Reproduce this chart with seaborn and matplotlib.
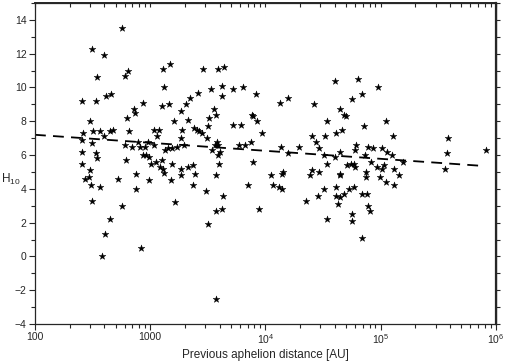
import matplotlib
matplotlib.use("Agg")
import matplotlib.pyplot as plt
import matplotlib.ticker as mticker
import numpy as np
import pandas as pd
import seaborn as sns

# log10 of previous aphelion distance [AU]
log_aphelion = [
    2.755, 2.495, 2.60, 2.535, 2.81, 2.78, 2.405, 2.527, 2.613, 2.66,
    2.934, 2.86, 2.87, 2.80, 2.474, 2.414, 2.50, 2.56, 2.648, 2.68,
    2.813, 2.41, 2.495, 2.596, 2.78, 2.84, 2.896, 2.91, 2.954, 2.983,
    2.405, 2.527, 2.54, 2.94, 2.96, 2.99, 2.787, 2.41, 3.006, 2.48,
    2.434, 2.468, 2.49, 2.56, 2.72, 2.88, 2.986, 2.874, 2.495, 2.755,
    2.65, 2.605, 2.58, 2.916,
    # 1000 - 3000
    3.108, 3.17, 3.117, 3.105, 3.165, 3.21, 3.03, 3.077, 3.06, 3.03,
    3.15, 3.186, 3.127, 3.05, 3.105, 3.19, 3.23, 3.085, 3.11, 3.12,
    3.18, 3.215, 3.455, 3.417, 3.345, 3.31, 3.264, 3.325, 3.278, 3.38,
    3.408, 3.426, 3.452, 3.264, 3.49, 3.29, 3.27, 3.33, 3.374, 3.267,
    3.39, 3.37, 3.486, 3.50,
    # 3000 - 10^4
    3.59, 3.637, 3.623, 3.527, 3.72, 3.805, 3.92, 3.62, 3.55, 3.57,
    3.507, 3.885, 3.89, 3.93, 3.50, 3.718, 3.79, 3.97, 3.576, 3.565,
    3.59, 3.533, 3.605, 3.585, 3.767, 3.82, 3.877, 3.594, 3.89, 3.57,
    3.63, 3.85, 3.57, 3.62, 3.94, 3.57,
    # 10^4 - 10^5
    4.60, 4.80, 4.98, 4.126, 4.198, 4.418, 4.75, 4.836, 4.65, 4.68,
    4.70, 4.536, 4.856, 4.667, 4.61, 4.40, 4.518, 4.443, 4.135, 4.29,
    4.464, 4.79, 4.775, 4.89, 4.93, 4.198, 4.505, 4.65, 4.86, 4.60,
    4.536, 4.71, 4.745, 4.77, 4.78, 4.92, 4.965, 4.40, 4.39, 4.466,
    4.155, 4.146, 4.045, 4.65, 4.65, 4.87, 4.87, 4.99, 4.062, 4.117,
    4.146, 4.35, 4.46, 4.505, 4.53, 4.614, 4.614, 4.65, 4.63, 4.68,
    4.725, 4.77, 4.75, 4.75, 4.837, 4.84, 4.88, 4.89, 4.91,
    # 10^5 - 10^6
    5.01, 5.045, 5.11, 5.057, 5.098, 5.196, 5.03, 5.01, 5.115, 5.16,
    5.05, 5.115, 5.583, 5.572, 5.557, 5.915,
]

h10 = [
    13.5, 12.3, 11.9, 10.6, 11.0, 10.7, 9.2, 9.2, 9.5, 9.6,
    9.1, 8.7, 8.5, 8.2, 8.0, 7.3, 7.4, 7.4, 7.45, 7.5,
    7.4, 6.9, 6.7, 7.1, 6.6, 6.5, 6.8, 6.5, 6.5, 6.8,
    6.2, 6.1, 5.8, 6.0, 6.0, 5.9, 5.7, 5.5, 5.5, 5.1,
    4.6, 4.7, 4.2, 4.1, 4.6, 4.9, 4.5, 4.0, 3.3, 3.0,
    2.2, 1.35, 0.0, 0.5,
    11.1, 11.4, 10.0, 8.9, 9.0, 8.0, 7.5, 7.5, 7.1, 6.6,
    6.4, 6.4, 6.3, 5.6, 5.7, 5.5, 6.5, 5.3, 5.2, 4.95,
    4.5, 3.2, 11.1, 9.7, 9.4, 9.0, 8.6, 8.1, 7.5, 7.6,
    7.5, 7.45, 7.3, 7.0, 7.0, 6.6, 5.2, 5.3, 5.4, 4.8,
    4.9, 4.2, 3.9, 1.9,
    11.1, 11.2, 10.1, 9.9, 9.9, 10.0, 9.6, 9.5, 8.7, 8.4,
    8.2, 8.4, 8.3, 8.0, 7.7, 7.8, 7.8, 7.3, 6.8, 6.6,
    6.6, 6.3, 6.2, 6.0, 6.6, 6.6, 6.8, 5.5, 5.6, 4.8,
    3.6, 4.2, 2.7, 2.8, 2.8, -2.5,
    10.4, 10.5, 10.0, 9.1, 9.4, 9.0, 9.3, 9.6, 8.7, 8.4,
    8.3, 8.0, 7.7, 7.5, 7.3, 7.1, 7.1, 6.8, 6.5, 6.5,
    6.4, 6.6, 6.3, 6.5, 6.4, 6.1, 6.0, 6.2, 6.0, 5.9,
    5.5, 5.4, 5.5, 5.5, 5.3, 5.6, 5.3, 5.1, 4.8, 5.0,
    5.0, 4.9, 4.8, 4.9, 4.8, 5.0, 4.7, 4.7, 4.2, 4.1,
    4.0, 3.3, 3.6, 4.0, 2.2, 4.1, 3.6, 3.5, 3.1, 3.7,
    4.0, 4.1, 2.5, 2.1, 1.1, 3.7, 3.7, 3.0, 2.7,
    6.4, 8.0, 7.1, 6.2, 6.0, 5.6, 5.4, 5.2, 5.2, 4.8,
    4.4, 4.2, 7.0, 6.1, 5.2, 6.3,
]

# dashed trend line end points
fit_x = [100, 8.0e5]
fit_y = [7.2, 5.35]

x_ticks = [100, 1000, 1e4, 1e5, 1e6]
x_tick_labels = ["100", "1000", "$10^4$", "$10^5$", "$10^6$"]
y_ticks = [-4, -2, 0, 2, 4, 6, 8, 10, 12, 14]

df = pd.DataFrame({"aphelion": 10 ** np.array(log_aphelion), "H10": h10})

sns.set_style("ticks")
plt.rcParams["font.family"] = ["Liberation Sans", "DejaVu Sans"]
plt.rcParams["mathtext.fontset"] = "custom"
plt.rcParams["mathtext.rm"] = "Liberation Sans"

fig = plt.figure(figsize=(5.05, 3.63), dpi=100)
ax = fig.add_axes([0.0693, 0.1074, 0.9127, 0.8843])

sns.scatterplot(data=df, x="aphelion", y="H10", marker="*", s=26,
                color="black", edgecolor="black", linewidth=0.3, ax=ax, legend=False)
ax.plot(fit_x, fit_y, color="black", linestyle=(0, (6, 4)), linewidth=1.3)

ax.set_xscale("log")
ax.set_xlim(100, 1e6)
ax.set_ylim(-4, 15)
ax.set_xticks(x_ticks)
ax.set_xticklabels(x_tick_labels)
ax.xaxis.set_minor_locator(mticker.LogLocator(base=10, subs=np.arange(2, 10)))
ax.xaxis.set_minor_formatter(mticker.NullFormatter())
ax.set_yticks(y_ticks)
ax.yaxis.set_minor_locator(mticker.MultipleLocator(1))

ax.tick_params(axis="both", which="major", labelsize=7.5, length=4, width=0.8,
               direction="out", top=False, right=False, pad=2)
ax.tick_params(axis="both", which="minor", length=3, width=0.8, direction="out")

# mirrored ticks: inward on top, outward on right
sec_top = ax.secondary_xaxis("top")
sec_top.set_xticks(x_ticks)
sec_top.set_xticklabels([])
sec_top.xaxis.set_minor_locator(mticker.LogLocator(base=10, subs=np.arange(2, 10)))
sec_top.tick_params(which="both", direction="in", length=3, width=0.8)
sec_top.spines["top"].set_linewidth(1.4)
sec_right = ax.secondary_yaxis("right")
sec_right.set_yticks(np.arange(-4, 16, 1))
sec_right.set_yticklabels([])
sec_right.tick_params(which="both", direction="out", length=3, width=0.8)
sec_right.spines["right"].set_linewidth(1.6)

for side in ["left", "bottom", "top", "right"]:
    ax.spines[side].set_linewidth(0.9)
    ax.spines[side].set_visible(True)

ax.set_xlabel("Previous aphelion distance [AU]", fontsize=8.5, labelpad=2)
ax.set_ylabel("H$_{10}$", fontsize=8.5, rotation=0, ha="left", va="center")
ax.yaxis.set_label_coords(-0.074, 0.45)

fig.savefig("out.png", dpi=100)
